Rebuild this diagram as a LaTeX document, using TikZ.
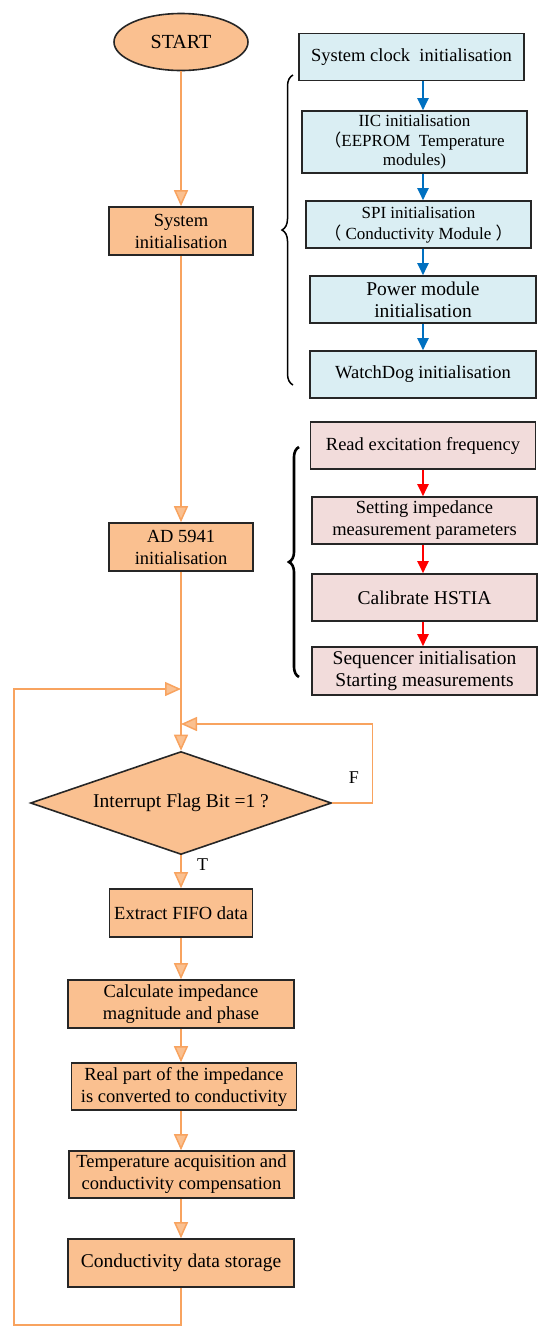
\documentclass[tikz,border=0pt]{standalone}
\usepackage{fontspec}
\setmainfont{Liberation Serif}
\newfontfamily\cjk{Noto Sans CJK SC}
\usetikzlibrary{arrows.meta,shapes.geometric,decorations.pathreplacing}
\definecolor{orfill}{RGB}{250,192,144}
\definecolor{orline}{RGB}{248,163,95}
\definecolor{bluefill}{RGB}{218,238,243}
\definecolor{pinkfill}{RGB}{242,220,219}
\definecolor{bluearr}{RGB}{0,112,192}

\begin{document}
\begin{tikzpicture}[x=1pt, y=-1pt,
    box/.style={rectangle, draw=black!85, line width=1.6pt, inner sep=0pt, align=center, minimum height=48pt, font=\fontsize{18.5}{22}\selectfont},
    obox/.style={box, fill=orfill, minimum width=144pt},
    bbox/.style={box, fill=bluefill, minimum width=225pt, minimum height=47pt},
    pbox/.style={box, fill=pinkfill, minimum width=225pt, minimum height=47pt},
    oarr/.style={-{Triangle[length=16pt, width=14pt, fill=orfill]}, draw=orline, line width=1.5pt},
    barr/.style={-{Triangle[length=12pt, width=11pt]}, draw=bluearr, line width=2pt},
    rarr/.style={-{Triangle[length=12pt, width=11pt]}, draw=red, line width=2pt},
    lbl/.style={font=\fontsize{18}{20}\selectfont}
]
    \useasboundingbox (0,0) rectangle (550,1334);

    % main column
    \node[ellipse, draw=black!85, line width=1.6pt, fill=orfill, minimum width=134pt, minimum height=57pt, inner sep=0pt, font=\fontsize{20}{24}\selectfont] (st) at (181,42) {START};
    \node[obox] (si) at (181,231) {System\\initialisation};
    \node[obox] (ad) at (181,547) {AD 5941\\initialisation};
    \node[diamond, draw=black!85, line width=1.6pt, fill=orfill, aspect=2.92, minimum width=301pt, minimum height=103pt, inner sep=0pt, font=\fontsize{19.5}{22}\selectfont] (flag) at (181,803) {Interrupt Flag Bit =1 ?};
    \node[obox, minimum width=143pt] (ex) at (181,913) {Extract FIFO data};
    \node[obox, minimum width=226pt] (calc) at (181,1004) {Calculate impedance\\magnitude and phase};
    \node[obox, minimum width=225pt, minimum height=47pt] (re) at (184,1086.5) {Real part of the impedance\\is converted to conductivity};
    \node[obox, minimum width=225pt, minimum height=47pt] (temp) at (181.5,1174.5) {Temperature acquisition and\\conductivity compensation};
    \node[obox, minimum width=226pt, font=\fontsize{19.5}{22}\selectfont] (sto) at (181,1263) {Conductivity data storage};

    \coordinate (lin) at (181,689);
    \coordinate (fin) at (181,724);

    \draw[oarr] (st) -- (si);
    \draw[oarr] (si) -- (ad);
    \draw[oarr] (ad) -- (flag);
    \draw[oarr] (flag) -- node[lbl, pos=0.27, right=12pt]{T} (ex);
    \draw[oarr] (ex) -- (calc);
    \draw[oarr] (calc.south) -- (calc.south |- re.north);
    \draw[oarr] (re.south -| calc) -- (temp.north -| calc);
    \draw[oarr] (temp.south -| calc) -- (sto.north);
    \draw[oarr] (flag.east) -- ++(40,0) |- (fin);
    \node[lbl] (flbl) at (354,778) {F};
    \draw[oarr] (sto.south) -- ++(0,37) -| ([xshift=-167pt]lin) -- (lin);

    % system initialisation steps
    \node[bbox] (clk) at (411.5,57) {System clock\ \ initialisation};
    \node[bbox, minimum height=62pt, font=\fontsize{17}{19.5}\selectfont] (iic) at (414.5,142) {IIC initialisation\\{\cjk （}EEPROM\ \ Temperature\\modules)};
    \node[bbox, font=\fontsize{17}{21}\selectfont] (spi) at (418.5,224.5) {SPI initialisation\\{\cjk （} Conductivity Module {\cjk ）}};
    \node[bbox, minimum width=226pt, font=\fontsize{19.5}{22}\selectfont] (pwr) at (423,299.5) {Power module\\initialisation};
    \node[bbox, minimum width=226pt] (wd) at (423,374.5) {WatchDog initialisation};
    \foreach \a/\b in {clk/iic, iic/spi, spi/pwr, pwr/wd}
        \draw[barr] (\a.south -| pwr) -- (\b.north -| pwr);
    \draw[decorate, decoration={brace, amplitude=11pt}, line width=1.5pt] (293,385) -- (293,75);

    % AD5941 steps
    \node[pbox] (rd) at (423,445.5) {Read excitation frequency};
    \node[pbox] (par) at (424.5,520.5) {Setting impedance\\measurement parameters};
    \node[pbox, font=\fontsize{19.5}{22}\selectfont] (cal) at (424.5,597.5) {Calibrate HSTIA};
    \node[pbox, minimum height=48pt, font=\fontsize{19.5}{22}\selectfont] (seq) at (424.5,671) {Sequencer initialisation\\Starting measurements};
    \foreach \a/\b in {rd/par, par/cal, cal/seq}
        \draw[rarr] (\a.south -| pwr) -- (\b.north -| pwr);
    \draw[decorate, decoration={brace, amplitude=10pt}, line width=2.6pt] (299,677) -- (299,447);
\end{tikzpicture}
\end{document}
